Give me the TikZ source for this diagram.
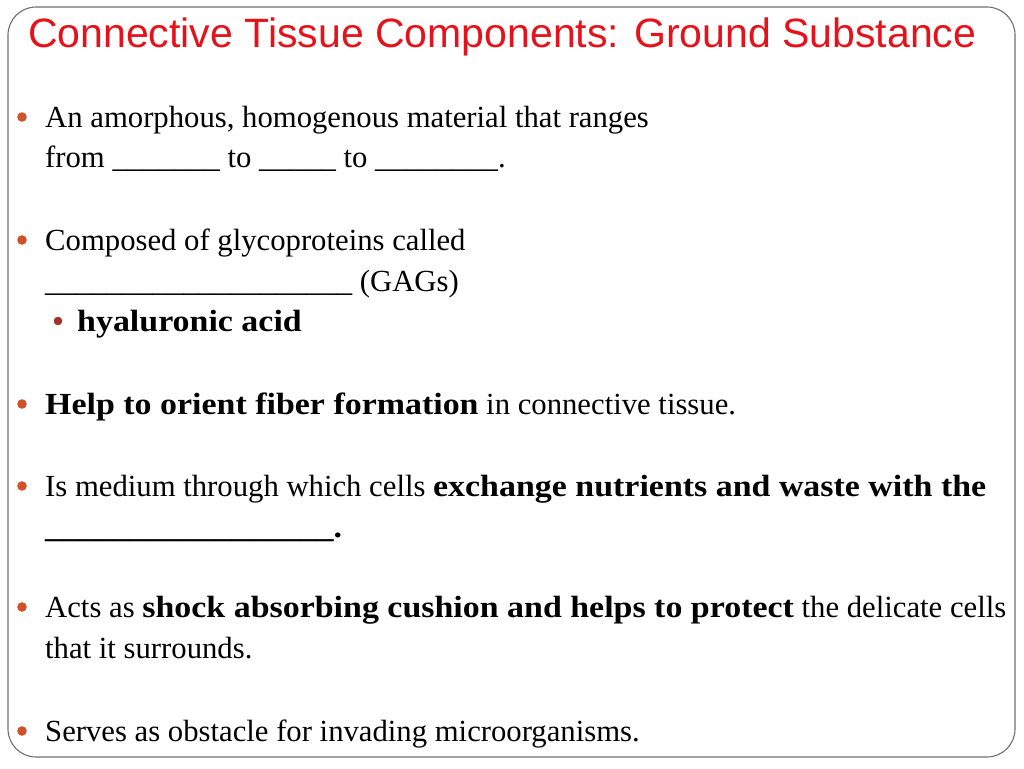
\documentclass[tikz,border=0pt]{standalone}
\usepackage{fontspec}
\setmainfont{Liberation Serif}[BoldFeatures={FakeStretch=1.105}]
\newfontfamily\titlefont{Liberation Sans}
\definecolor{titlered}{HTML}{E5121B}
\definecolor{dotorange}{HTML}{D1512A}
\definecolor{dotred}{HTML}{A8302C}
\definecolor{framegray}{HTML}{6E6E6E}
\begin{document}
\begin{tikzpicture}[x=1pt,y=-1pt,
		txt/.style={anchor=base west,inner sep=0pt,font=\fontsize{30.7}{36}\selectfont},
		ttl/.style={anchor=base west,inner sep=0pt,text=titlered,font=\titlefont\fontsize{41}{48}\selectfont}]
				\useasboundingbox (0,0) rectangle (1024,768);
				\draw[framegray, line width=1.1, rounded corners=28] (8,7) rectangle (1015,757);
				\node[ttl] (title) at (28,48) {Connective Tissue Components: Ground Substance};
				% bullets
				\foreach \y in {127,250,414,496,617,741}
					\fill[dotorange] (22,\y-10) circle (4.8);
				\fill[dotred] (58,321) circle (4.3);
				\node[txt] (amorph) at (45,127) {An amorphous, homogenous material that ranges};
				\node[txt] (from) at (45,167) {from \_\_\_\_\_\_\_ to \_\_\_\_\_ to \_\_\_\_\_\_\_\_.};
				\node[txt] (compo) at (45,250) {Composed of glycoproteins called};
				\node[txt] (gags) at (45,291) {\_\_\_\_\_\_\_\_\_\_\_\_\_\_\_\_\_\_\_\_ (GAGs)};
				\node[txt] (hyal) at (77,331) {\textbf{hyaluronic acid}};
				\node[txt] (orient) at (45,414) {\textbf{Help to orient fiber formation} in connective tissue.};
				\node[txt] (medium) at (45,496) {Is medium through which cells \textbf{exchange nutrients and waste with the}};
				\node[txt] (blank) at (45,537) {\textbf{\_\_\_\_\_\_\_\_\_\_\_\_\_\_\_\_\_.}};
				\node[txt] (shock) at (45,617) {Acts as \textbf{shock absorbing cushion and helps to protect} the delicate cells};
				\node[txt] (surr) at (45,658) {that it surrounds.};
				\node[txt] (obst) at (45,741) {Serves as obstacle for invading microorganisms.};
			\end{tikzpicture}
\end{document}
